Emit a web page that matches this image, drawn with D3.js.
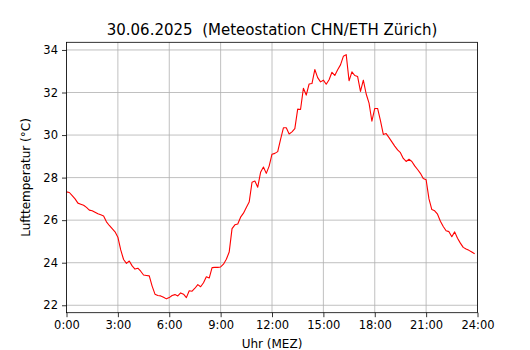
<!DOCTYPE html>
<html lang="de">
<head>
<meta charset="UTF-8">
<title>Lufttemperatur</title>
<script src="https://cdn.jsdelivr.net/npm/d3@7"></script>
<style>
  body { margin: 0; background: #fff; }
  svg { display: block; font-family: "DejaVu Sans", sans-serif; }
</style>
</head>
<body>
<svg width="530" height="350"></svg>
<script>
// Messwerte alle 10 Minuten, 0:00 bis 23:50
var stepMinutes = 10;
var temps = [
  27.33, 27.3, 27.15, 27.0, 26.8, 26.75, 26.7, 26.6, 26.47, 26.44, 26.37, 26.3,
  26.25, 26.2, 25.92, 25.75, 25.6, 25.45, 25.2, 24.6, 24.15, 23.97, 24.08, 23.85,
  23.7, 23.74, 23.6, 23.42, 23.4, 23.38, 22.9, 22.52, 22.46, 22.44, 22.38, 22.3,
  22.36, 22.46, 22.5, 22.44, 22.58, 22.52, 22.36, 22.68, 22.66, 22.8, 22.97, 22.87,
  23.06, 23.34, 23.28, 23.77, 23.78, 23.78, 23.8, 23.93, 24.16, 24.5, 25.6, 25.78,
  25.82, 26.14, 26.33, 26.6, 26.85, 27.78, 27.84, 27.55, 28.25, 28.5, 28.2, 28.54,
  29.1, 29.14, 29.22, 29.8, 30.34, 30.34, 30.05, 30.15, 30.3, 31.22, 31.2, 32.2,
  31.88, 32.4, 32.42, 33.08, 32.7, 32.5, 32.58, 32.39, 32.6, 32.95, 32.8, 33.07,
  33.3, 33.7, 33.78, 32.55, 32.97, 32.8, 32.75, 32.05, 32.58, 31.93, 31.5, 30.65,
  31.25, 31.25, 30.68, 30.03, 30.07, 29.88, 29.68, 29.48, 29.3, 29.17, 28.9, 28.76,
  28.86, 28.76, 28.55, 28.38, 28.2, 27.96, 27.9, 27.0, 26.5, 26.44, 26.28, 25.95,
  25.7, 25.5, 25.46, 25.22, 25.45, 25.15, 24.92, 24.72, 24.64, 24.58, 24.5, 24.42
];
var xTickHours = [0, 3, 6, 9, 12, 15, 18, 21, 24];
var xTickLabels = ["0:00", "3:00", "6:00", "9:00", "12:00", "15:00", "18:00", "21:00", "24:00"];
var yTicks = [22, 24, 26, 28, 30, 32, 34];

// Plotbereich (window.top ist reserviert, daher andere Namen)
var pLeft = 66.5, pRight = 477.5, pTop = 42.3, pBottom = 312.7;

var x = d3.scaleLinear().domain([0, 24]).range([pLeft, pRight]);
var y = d3.scaleLinear().domain([21.65, 34.36]).range([pBottom, pTop]);

var svg = d3.select('svg');

// Gitter
var grid = svg.append('g').attr('stroke', '#b0b0b0').attr('stroke-width', 0.8);
grid.selectAll('.gx').data(xTickHours).enter().append('line')
  .attr('x1', function (d) { return x(d); }).attr('x2', function (d) { return x(d); })
  .attr('y1', pTop).attr('y2', pBottom);
grid.selectAll('.gy').data(yTicks).enter().append('line')
  .attr('y1', function (d) { return y(d); }).attr('y2', function (d) { return y(d); })
  .attr('x1', pLeft).attr('x2', pRight);

// Kurve
var line = d3.line()
  .x(function (d, i) { return x(i * stepMinutes / 60); })
  .y(function (d) { return y(d); });
svg.append('path').datum(temps)
  .attr('d', line)
  .attr('fill', 'none')
  .attr('stroke', 'red')
  .attr('stroke-width', 1.1)
  .attr('stroke-linejoin', 'round');

// Achsen
var axisX = d3.axisBottom(x).tickValues(xTickHours)
  .tickFormat(function (d, i) { return xTickLabels[i]; })
  .tickSizeInner(4.5).tickSizeOuter(0).tickPadding(4);
var gx = svg.append('g').attr('transform', 'translate(0,' + pBottom + ')').call(axisX);

var axisY = d3.axisLeft(y).tickValues(yTicks)
  .tickSizeInner(4.5).tickSizeOuter(0).tickPadding(4);
var gy = svg.append('g').attr('transform', 'translate(' + pLeft + ',0)').call(axisY);

[gx, gy].forEach(function (g) {
  g.select('.domain').remove();
  g.selectAll('line').attr('stroke', '#000').attr('stroke-width', 0.8);
  g.selectAll('text').attr('font-size', 11.5).attr('fill', '#000')
    .attr('font-family', '"DejaVu Sans", sans-serif');
});

// Rahmen
svg.append('rect').attr('x', pLeft).attr('y', pTop)
  .attr('width', pRight - pLeft).attr('height', pBottom - pTop)
  .attr('fill', 'none').attr('stroke', '#000').attr('stroke-width', 0.8);

// Beschriftungen
svg.append('text').attr('x', (pLeft + pRight) / 2).attr('y', 35)
  .attr('text-anchor', 'middle').attr('font-size', 15)
  .style('white-space', 'pre')
  .text('30.06.2025  (Meteostation CHN/ETH Zürich)');
svg.append('text').attr('x', (pLeft + pRight) / 2).attr('y', 348)
  .attr('text-anchor', 'middle').attr('font-size', 12)
  .text('Uhr (MEZ)');
svg.append('text')
  .attr('transform', 'translate(30,' + (pTop + pBottom) / 2 + ') rotate(-90)')
  .attr('text-anchor', 'middle').attr('font-size', 12)
  .text('Lufttemperatur (°C)');
</script>
</body>
</html>
